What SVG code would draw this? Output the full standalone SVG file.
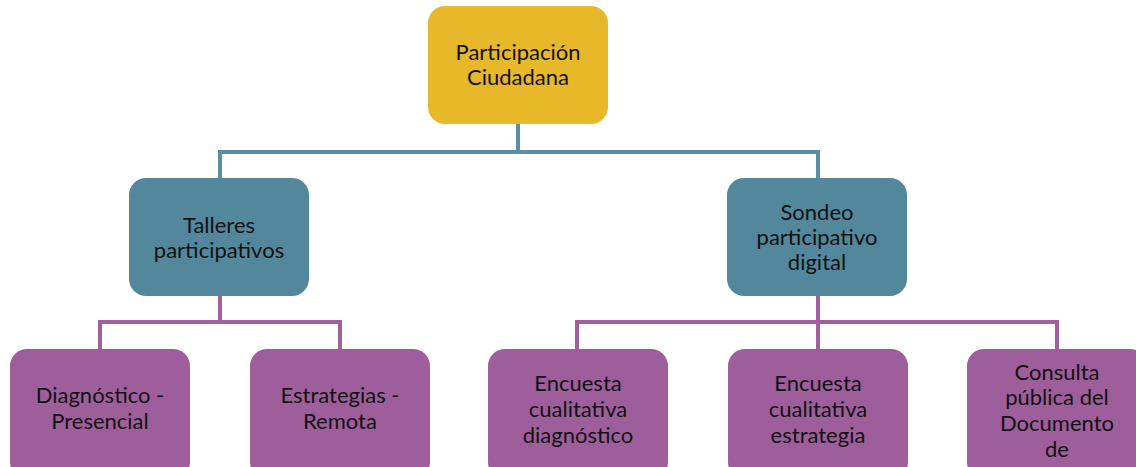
<svg xmlns="http://www.w3.org/2000/svg" width="1136" height="467" viewBox="0 0 1136 467">
<style>
.t{font-family:Lato,"Open Sans","Liberation Sans",sans-serif;font-size:22px;fill:#111;text-anchor:middle}
.y{fill:#E6B82A}
.b{fill:#53879B}
.p{fill:#9E5E9B}
.cb{stroke:#5A8EA2;stroke-width:4;fill:none}
.cp{stroke:#A0609F;stroke-width:4;fill:none}
</style>
<rect width="1136" height="467" fill="#fff"/>
<g id="connectors">
<path class="cb" d="M518 124V152M220 152H818M220 150V180M818 150V180"/>
<path class="cp" d="M220 296V322M100 322H340M100 320V351M340 320V351"/>
<path class="cp" d="M818 296V350M577 322H1057M577 320V351M1057 320V351"/>
</g>
<g id="n0"><rect class="y" x="428" y="6" width="180" height="118" rx="17"/>
<text class="t" x="518" y="60">Participación</text><text class="t" x="518" y="85">Ciudadana</text></g>
<g id="n1"><rect class="b" x="129" y="178" width="180" height="118" rx="17"/>
<text class="t" x="219" y="233">Talleres</text><text class="t" x="219" y="258">participativos</text></g>
<g id="n2"><rect class="b" x="727" y="178" width="180" height="118" rx="17"/>
<text class="t" x="817" y="220">Sondeo</text><text class="t" x="817" y="245">participativo</text><text class="t" x="817" y="270">digital</text></g>
<g id="n3"><rect class="p" x="10" y="349" width="180" height="130" rx="17"/>
<text class="t" x="100" y="403">Diagnóstico -</text><text class="t" x="100" y="429">Presencial</text></g>
<g id="n4"><rect class="p" x="250" y="349" width="180" height="130" rx="17"/>
<text class="t" x="340" y="403">Estrategias -</text><text class="t" x="340" y="429">Remota</text></g>
<g id="n5"><rect class="p" x="488" y="349" width="180" height="130" rx="17"/>
<text class="t" x="578" y="391">Encuesta</text><text class="t" x="578" y="417">cualitativa</text><text class="t" x="578" y="443">diagnóstico</text></g>
<g id="n6"><rect class="p" x="728" y="349" width="180" height="130" rx="17"/>
<text class="t" x="818" y="391">Encuesta</text><text class="t" x="818" y="417">cualitativa</text><text class="t" x="818" y="443">estrategia</text></g>
<g id="n7"><rect class="p" x="967" y="349" width="180" height="130" rx="17"/>
<text class="t" x="1057" y="380">Consulta</text><text class="t" x="1057" y="405">pública del</text><text class="t" x="1057" y="431">Documento</text><text class="t" x="1057" y="457">de</text></g>
</svg>
